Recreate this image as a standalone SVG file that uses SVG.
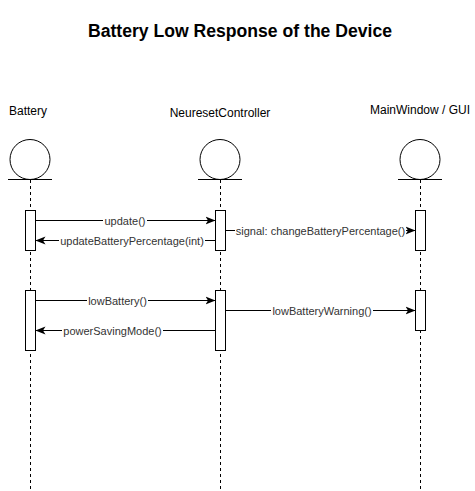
<svg xmlns="http://www.w3.org/2000/svg" width="475" height="491" viewBox="0 0 475 491">
<style>
text{font-family:"Liberation Sans",Arial,sans-serif;fill:#000}
.t{font-size:17.6px;font-weight:bold}
.h{font-size:12px}
.l{font-size:11px;fill:#333}
.ll{stroke:#000;stroke-width:1;stroke-dasharray:3 3;fill:none}
.act{fill:#fff;stroke:#000;stroke-width:1}
.m{stroke:#000;stroke-width:1;fill:none}
.bg{fill:#fff}
</style>
<defs>
<marker id="ar" viewBox="0 0 10 10" refX="10" refY="5" markerWidth="10" markerHeight="10" markerUnits="userSpaceOnUse" orient="auto">
<path d="M0,1 L10,5 L0,9 L2.5,5 Z" fill="#000"/>
</marker>
</defs>
<rect width="475" height="491" fill="#fff"/>
<text class="t" x="240" y="37" text-anchor="middle">Battery Low Response of the Device</text>
<g id="battery">
<text class="h" x="28" y="115" text-anchor="middle">Battery</text>
<circle cx="30" cy="159.5" r="20" fill="#fff" stroke="#000"/>
<line x1="8" y1="179.5" x2="52" y2="179.5" stroke="#000"/>
<line class="ll" x1="30.5" y1="180" x2="30.5" y2="491"/>
<rect class="act" x="25.5" y="210.5" width="10" height="40"/>
<rect class="act" x="25.5" y="290.5" width="10" height="60"/>
</g>
<g id="controller">
<text class="h" x="220" y="117" text-anchor="middle">NeuresetController</text>
<circle cx="220" cy="159.5" r="20" fill="#fff" stroke="#000"/>
<line x1="198" y1="179.5" x2="242" y2="179.5" stroke="#000"/>
<line class="ll" x1="220.5" y1="180" x2="220.5" y2="491"/>
<rect class="act" x="215.5" y="210.5" width="10" height="40"/>
<rect class="act" x="215.5" y="290.5" width="10" height="60"/>
</g>
<g id="gui">
<text class="h" x="420" y="114" text-anchor="middle">MainWindow / GUI</text>
<circle cx="420" cy="159.5" r="20" fill="#fff" stroke="#000"/>
<line x1="398" y1="179.5" x2="442" y2="179.5" stroke="#000"/>
<line class="ll" x1="420.5" y1="180" x2="420.5" y2="491"/>
<rect class="act" x="415.5" y="210.5" width="10" height="40"/>
<rect class="act" x="415.5" y="290.5" width="10" height="40"/>
</g>
<g id="connectors">
<line class="m" x1="35.5" y1="220.5" x2="215.5" y2="220.5" marker-end="url(#ar)"/>
<rect class="bg" x="103" y="214" width="44" height="13"/>
<text class="l" x="125" y="224.5" text-anchor="middle">update()</text>
<line class="m" x1="215.5" y1="240.5" x2="35.5" y2="240.5" marker-end="url(#ar)"/>
<rect class="bg" x="59" y="234" width="146" height="13"/>
<text class="l" x="132" y="244.5" text-anchor="middle">updateBatteryPercentage(int)</text>
<line class="m" x1="225.5" y1="230.5" x2="415.5" y2="230.5" marker-end="url(#ar)"/>
<rect class="bg" x="235" y="224" width="171" height="13"/>
<text class="l" x="320.5" y="234.5" text-anchor="middle">signal: changeBatteryPercentage()</text>
<line class="m" x1="35.5" y1="300.5" x2="215.5" y2="300.5" marker-end="url(#ar)"/>
<rect class="bg" x="87" y="294" width="61" height="13"/>
<text class="l" x="117.5" y="304.5" text-anchor="middle">lowBattery()</text>
<line class="m" x1="225.5" y1="310.5" x2="415.5" y2="310.5" marker-end="url(#ar)"/>
<rect class="bg" x="271" y="304" width="102" height="13"/>
<text class="l" x="322" y="314.5" text-anchor="middle">lowBatteryWarning()</text>
<line class="m" x1="215.5" y1="330.5" x2="35.5" y2="330.5" marker-end="url(#ar)"/>
<rect class="bg" x="62" y="324" width="101" height="13"/>
<text class="l" x="112.5" y="334.5" text-anchor="middle">powerSavingMode()</text>
</g>
</svg>
